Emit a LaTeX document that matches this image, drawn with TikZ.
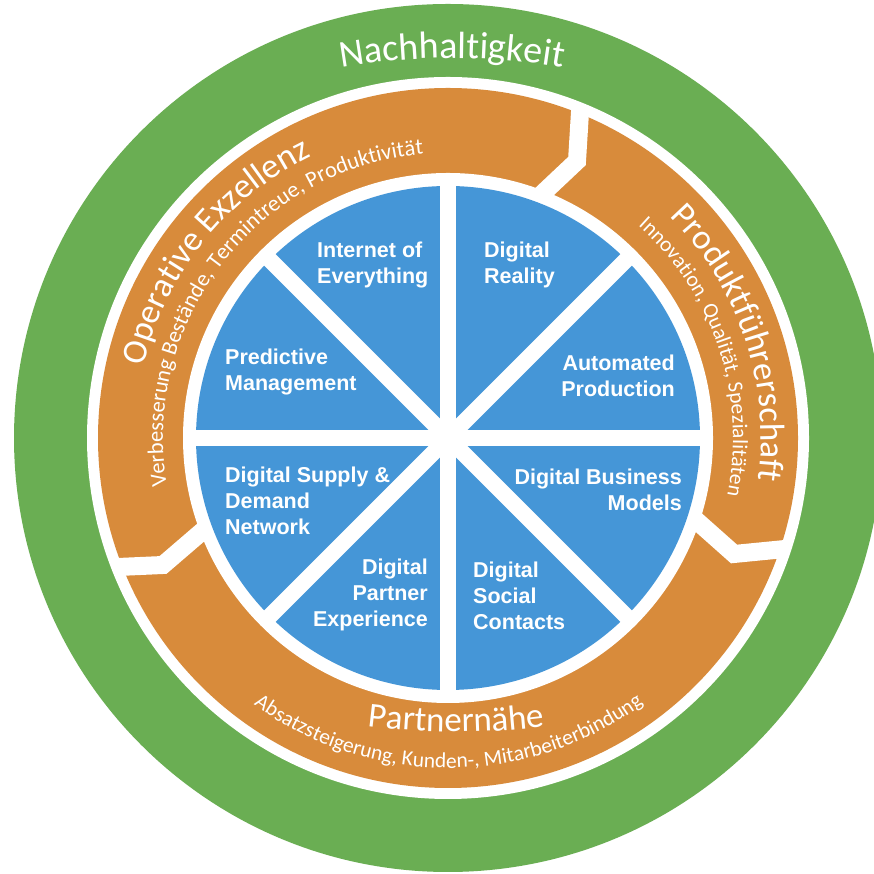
\documentclass[tikz,border=0pt]{standalone}
\usepackage{fontspec}
\setmainfont{Liberation Sans}
\newfontfamily\ringfont{Carlito}
\usetikzlibrary{decorations.text}
\definecolor{ringgreen}{HTML}{6AAE53}
\definecolor{ringorange}{HTML}{D88B3B}
\definecolor{pieblue}{HTML}{4596D7}
\tikzset{
  pielabel/.style={font=\bfseries\fontsize{21.5}{26}\selectfont, text=white, inner sep=0pt},
  divider/.style={draw=white, line width=18pt, line join=miter},
  spoke/.style={draw=white, line width=16pt},
}
% #1 centre, #2 start angle, #3 end angle, #4 radius, #5 size, #6 text
\newcommand\ringtext[6]{%
  \path[shift={(#1)}, decorate,
    decoration={text along path, text align=center,
      text={|\ringfont\fontsize{#5}{#5}\selectfont\color{white}|#6}}]
    (#2:#4) arc[start angle=#2, end angle=#3, radius=#4];
}
\begin{document}
\begin{tikzpicture}[x=1pt,y=1pt]
\useasboundingbox (0,0) rectangle (874,874);
\clip (0,0) rectangle (874,874);
\fill[white] (0,0) rectangle (874,874);
\coordinate (C) at (448,436);
% rings
\fill[ringgreen] (C) circle[radius=434];
\fill[white] (C) circle[radius=361];
\fill[ringorange] (C) circle[radius=350];
\fill[white] (C) circle[radius=265];
% dividers between the orange segments
\begin{scope}
  \clip (C) circle[radius=356];
  \coordinate (t1) at (525,664); \coordinate (t2) at (577,713);
  \coordinate (t3) at (580,762); \coordinate (t4) at (582,800);
  \draw[divider] (t1) -- (t2) -- (t3) -- (t4);
  \coordinate (r1) at (680,368); \coordinate (r2) at (734,320);
  \coordinate (r3) at (785,325); \coordinate (r4) at (820,328);
  \draw[divider] (r1) -- (r2) -- (r3) -- (r4);
  \coordinate (l1) at (220,358); \coordinate (l2) at (163,309);
  \coordinate (l3) at (118,307); \coordinate (l4) at (80,306);
  \draw[divider] (l1) -- (l2) -- (l3) -- (l4);
\end{scope}
% blue pie
\fill[pieblue] (C) circle[radius=252];
\begin{scope}[shift={(448,436)}]
  \foreach \a in {0,45,90,135} \draw[spoke] (\a:258) -- (\a:-258);
\end{scope}
% pie labels
\node[pielabel, anchor=north west, align=left] (ioe) at (317,632) {Internet of\\Everything};
\node[pielabel, anchor=north west, align=left] (pm) at (225,525) {Predictive\\Management};
\node[pielabel, anchor=north west, align=left] (dr) at (484,632) {Digital\\Reality};
\node[pielabel, anchor=north east, align=right] (ap) at (675,519) {Automated\\Production};
\node[pielabel, anchor=north east, align=right] (dbm) at (682,405) {Digital Business\\Models};
\node[pielabel, anchor=north west, align=left] (dsd) at (225,407) {Digital Supply \&\\Demand\\Network};
\node[pielabel, anchor=north east, align=right] (dpe) at (428,315) {Digital\\Partner\\Experience};
\node[pielabel, anchor=north west, align=left] (dsc) at (473,312) {Digital\\Social\\Contacts};
% ring texts
\ringtext{452,166}{104}{76}{650}{38}{Nachhaltigkeit}
\ringtext{448,436}{176.3}{106.3}{313}{35}{Operative Exzellenz}
\ringtext{448,436}{197.3}{87.3}{285}{22.5}{Verbesserung Bestände, Termintreue, Produktivität}
\ringtext{448,436}{53.6}{-16.4}{313}{35}{Produktführerschaft}
\ringtext{448,436}{58.3}{-21.7}{285}{21.5}{Innovation, Qualität, Spezialitäten}
\ringtext{448,436}{225.1}{315.1}{330}{21.5}{Absatzsteigerung, Kunden-, Mitarbeiterbindung}
\ringtext{456,842}{255}{285}{700}{35}{Partnernähe}
\end{tikzpicture}
\end{document}
